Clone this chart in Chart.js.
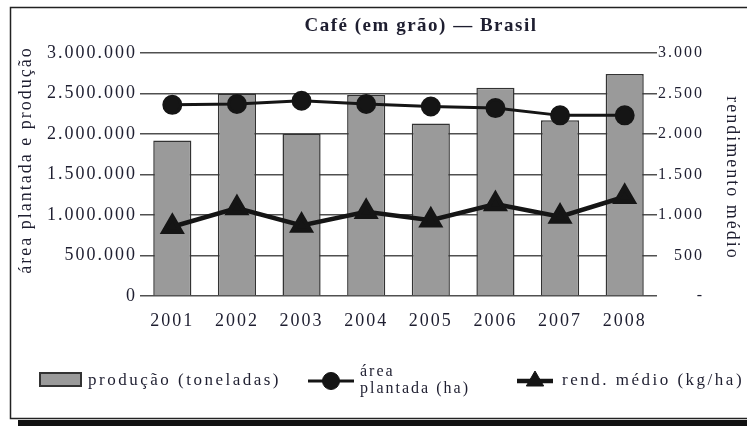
<!DOCTYPE html>
<html>
<head>
<meta charset="utf-8">
<script src="https://cdn.jsdelivr.net/npm/chart.js@4"></script>
<style>
    html, body { margin: 0; padding: 0; background: #fff; }
    #wrap { position: relative; width: 747px; height: 426px; }
</style>
</head>
<body>
<div id="wrap"><canvas id="cafeChart" width="747" height="426"></canvas></div>
<script>
const years = ['2001', '2002', '2003', '2004', '2005', '2006', '2007', '2008'];
const producao = [1920000, 2500000, 2000000, 2480000, 2130000, 2570000, 2170000, 2740000];
const areaPlantada = [2360000, 2370000, 2410000, 2370000, 2340000, 2320000, 2230000, 2230000];
const rendimento = [855, 1085, 870, 1040, 935, 1135, 980, 1225];

const leftTicks = [0, 500000, 1000000, 1500000, 2000000, 2500000, 3000000];
const rightTicks = [0, 500, 1000, 1500, 2000, 2500, 3000];

const ink = '#1e1e30';
const serif = '"Liberation Serif", "Times New Roman", serif';

// pontos de milhar no formato brasileiro
function milhar(v) {
    return String(v).replace(/\B(?=(\d{3})+(?!\d))/g, '.');
}

// moldura, título, títulos dos eixos e legenda
const decor = {
    id: 'decor',
    beforeLayout(chart) {
        chart.ctx.letterSpacing = '2px';
    },
    beforeDraw(chart) {
        const ctx = chart.ctx;
        ctx.save();
        ctx.fillStyle = '#fff';
        ctx.fillRect(0, 0, chart.width, chart.height);
        ctx.strokeStyle = '#222';
        ctx.lineWidth = 1.5;
        ctx.strokeRect(10.5, 7.5, 760, 411);
        ctx.fillStyle = '#111';
        ctx.fillRect(18, 420, 760, 6);
        ctx.restore();
        ctx.letterSpacing = '2px';
    },
    afterDraw(chart) {
        const ctx = chart.ctx;
        const ds = chart.data.datasets;
        ctx.save();
        ctx.fillStyle = ink;
        ctx.textBaseline = 'middle';

        // título
        ctx.letterSpacing = '1.5px';
        ctx.font = 'bold 19px ' + serif;
        ctx.textAlign = 'center';
        ctx.fillText('Café (em grão) — Brasil', 421, 26);

        // títulos dos eixos
        ctx.letterSpacing = '2px';
        ctx.font = '18px ' + serif;
        ctx.save();
        ctx.translate(26, 160);
        ctx.rotate(-Math.PI / 2);
        ctx.fillText('área plantada e produção', 0, 0);
        ctx.restore();
        ctx.save();
        ctx.translate(732, 178);
        ctx.rotate(Math.PI / 2);
        ctx.fillText('rendimento médio', 0, 0);
        ctx.restore();

        // legenda
        ctx.textAlign = 'left';
        ctx.letterSpacing = '2.5px';
        ctx.font = '17px ' + serif;

        ctx.fillStyle = ds[0].backgroundColor;
        ctx.fillRect(40, 373, 41, 13);
        ctx.strokeStyle = '#333';
        ctx.lineWidth = 2;
        ctx.strokeRect(40, 373, 41, 13);
        ctx.fillStyle = ink;
        ctx.fillText(ds[0].label, 88, 381);

        ctx.strokeStyle = ds[1].borderColor;
        ctx.fillStyle = ds[1].pointBackgroundColor;
        ctx.lineWidth = ds[1].borderWidth;
        ctx.beginPath(); ctx.moveTo(308, 381); ctx.lineTo(354, 381); ctx.stroke();
        ctx.lineWidth = 1;
        Chart.helpers.drawPoint(ctx, { pointStyle: 'circle', radius: ds[1].pointRadius, borderWidth: 1 }, 331, 381);
        ctx.font = '16px ' + serif;
        ctx.letterSpacing = '2px';
        ctx.fillStyle = ink;
        ctx.fillText('área', 360, 372);
        ctx.fillText('plantada (ha)', 360, 389);

        ctx.strokeStyle = ds[2].borderColor;
        ctx.fillStyle = ds[2].pointBackgroundColor;
        ctx.lineWidth = ds[2].borderWidth;
        ctx.beginPath(); ctx.moveTo(517, 381); ctx.lineTo(553, 381); ctx.stroke();
        ctx.lineWidth = 1;
        Chart.helpers.drawPoint(ctx, { pointStyle: 'triangle', radius: ds[2].pointRadius, borderWidth: 1 }, 535, 381);
        ctx.font = '17px ' + serif;
        ctx.letterSpacing = '2.5px';
        ctx.fillStyle = ink;
        ctx.fillText(ds[2].label, 562, 381);
        ctx.restore();
    }
};

new Chart(document.getElementById('cafeChart'), {
    data: {
        labels: years,
        datasets: [
            {
                type: 'bar',
                label: 'produção (toneladas)',
                data: producao,
                yAxisID: 'y',
                backgroundColor: '#9a9a9a',
                borderColor: '#333',
                borderWidth: 1.5,
                categoryPercentage: 1,
                barPercentage: 0.59,
                order: 3
            },
            {
                type: 'line',
                label: 'área plantada (ha)',
                data: areaPlantada,
                yAxisID: 'y',
                borderColor: '#151515',
                backgroundColor: '#151515',
                borderWidth: 3,
                pointStyle: 'circle',
                pointRadius: 8.5,
                pointBackgroundColor: '#151515',
                pointBorderColor: '#151515',
                tension: 0,
                order: 2
            },
            {
                type: 'line',
                label: 'rend. médio (kg/ha)',
                data: rendimento,
                yAxisID: 'y1',
                borderColor: '#151515',
                backgroundColor: '#151515',
                borderWidth: 4.5,
                pointStyle: 'triangle',
                pointRadius: 10,
                pointBackgroundColor: '#151515',
                pointBorderColor: '#151515',
                tension: 0,
                order: 1
            }
        ]
    },
    options: {
        responsive: false,
        animation: false,
        layout: { padding: { top: 53, bottom: 100, left: 0, right: 43 } },
        plugins: {
            legend: { display: false },
            tooltip: { enabled: false },
            title: { display: false }
        },
        scales: {
            x: {
                grid: { display: false },
                border: { display: false },
                ticks: { color: ink, font: { family: serif, size: 18 }, padding: 6, maxRotation: 0 },
                afterFit(s) { s.height = 30; }
            },
            y: {
                position: 'left',
                min: 0,
                max: 3000000,
                border: { display: false },
                grid: { color: '#505050', lineWidth: 1.5, drawTicks: false },
                afterBuildTicks(s) { s.ticks = leftTicks.map(v => ({ value: v })); },
                ticks: {
                    color: ink,
                    font: { family: serif, size: 18 },
                    padding: 3,
                    callback: v => milhar(v)
                },
                afterFit(s) { s.width = 140; }
            },
            y1: {
                position: 'right',
                min: 0,
                max: 3000,
                border: { display: false },
                grid: { display: false, drawTicks: false },
                afterBuildTicks(s) { s.ticks = rightTicks.map(v => ({ value: v })); },
                ticks: {
                    color: ink,
                    font: { family: serif, size: 16 },
                    padding: 4,
                    crossAlign: 'far',
                    callback: v => v === 0 ? '-' : milhar(v)
                },
                afterFit(s) { s.width = 47; }
            }
        }
    },
    plugins: [decor]
});
</script>
</body>
</html>
